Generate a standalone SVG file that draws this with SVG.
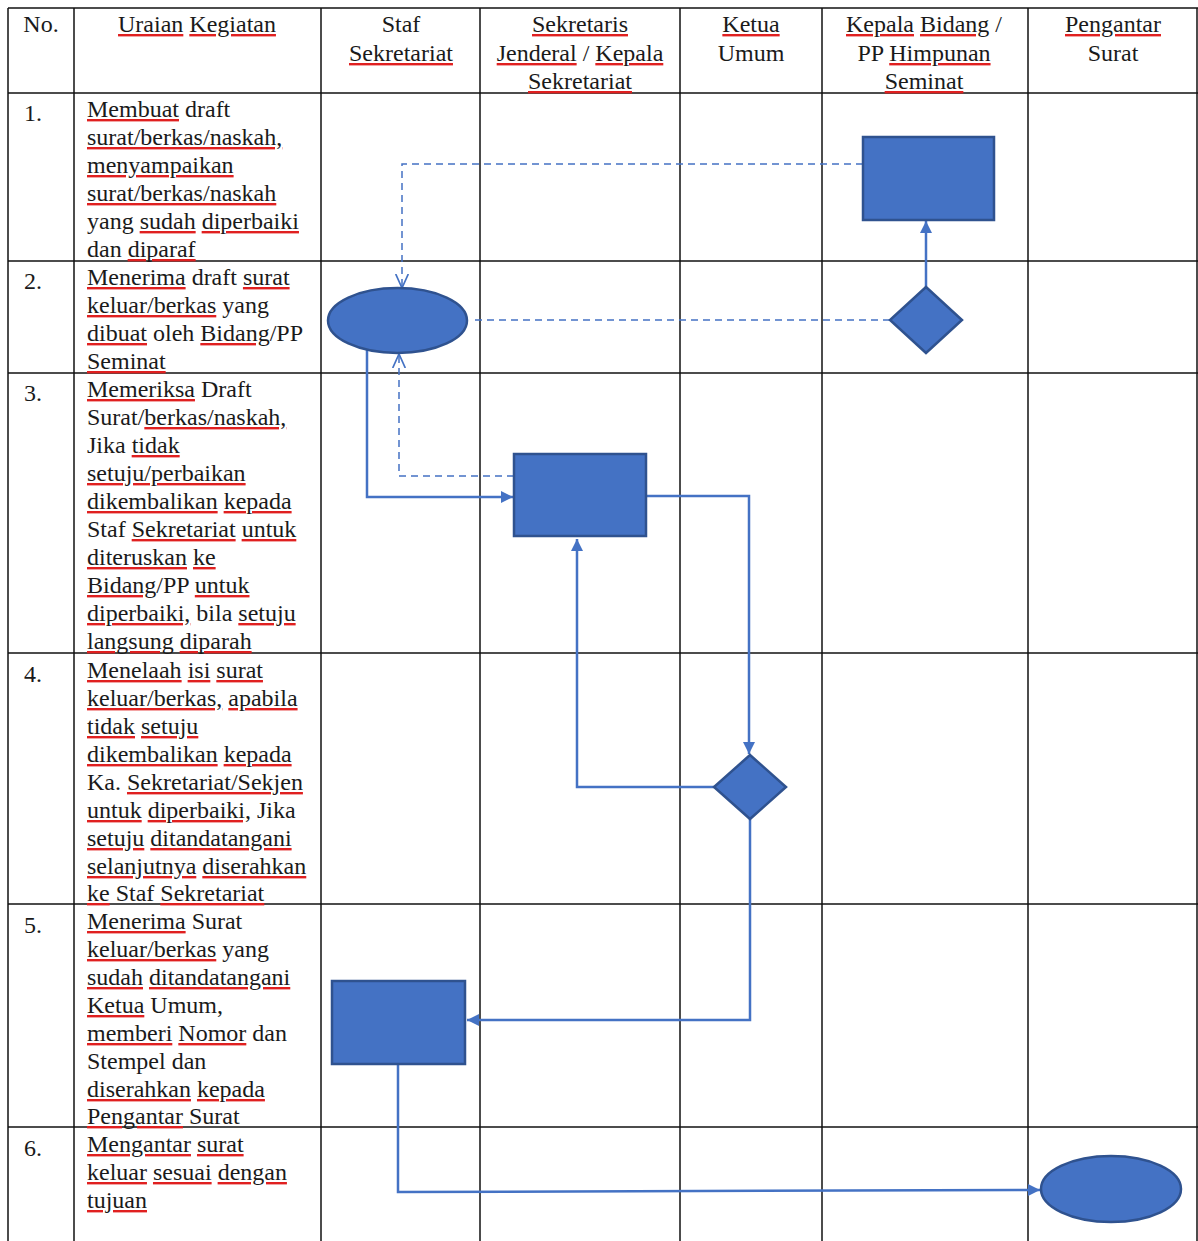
<svg xmlns="http://www.w3.org/2000/svg" width="1198" height="1241" viewBox="0 0 1198 1241">
<style>
text{font-family:"Liberation Serif","Times New Roman",serif;font-size:24px;fill:#1a1a1a}
.c{text-anchor:middle}
.s{fill:#e02020;text-decoration:underline wavy #e02020;text-decoration-line:underline;text-decoration-style:wavy;text-decoration-color:#e02020}
.k{fill:#1a1a1a}
.grid line{stroke:#111;stroke-width:1.5}
.shape{fill:#4472C4;stroke:#2F528F;stroke-width:2.5}
.con{fill:none;stroke:#4472C4;stroke-width:2.5}
.dash{fill:none;stroke:#4472C4;stroke-width:1.5;stroke-dasharray:7 5}
</style>
<defs>
<marker id="af" viewBox="0 0 10 10" refX="10" refY="5" markerWidth="12" markerHeight="12" markerUnits="userSpaceOnUse" orient="auto"><path d="M0,0 L10,5 L0,10 z" fill="#4472C4"/></marker>
<marker id="ao" viewBox="0 0 10 10" refX="10" refY="5" markerWidth="14" markerHeight="14" markerUnits="userSpaceOnUse" orient="auto"><path d="M0,0.5 L10,5 L0,9.5" fill="none" stroke="#4472C4" stroke-width="1.2"/></marker>
</defs>
<rect width="1198" height="1241" fill="#fff"/>
<g class="grid">
<line x1="8" y1="8" x2="1198" y2="8"/>
<line x1="8" y1="93" x2="1198" y2="93"/>
<line x1="8" y1="261" x2="1198" y2="261"/>
<line x1="8" y1="373" x2="1198" y2="373"/>
<line x1="8" y1="653" x2="1198" y2="653"/>
<line x1="8" y1="904" x2="1198" y2="904"/>
<line x1="8" y1="1127" x2="1198" y2="1127"/>
<line x1="8" y1="8" x2="8" y2="1241"/>
<line x1="74" y1="8" x2="74" y2="1241"/>
<line x1="321" y1="8" x2="321" y2="1241"/>
<line x1="480" y1="8" x2="480" y2="1241"/>
<line x1="680" y1="8" x2="680" y2="1241"/>
<line x1="822" y1="8" x2="822" y2="1241"/>
<line x1="1028" y1="8" x2="1028" y2="1241"/>
<line x1="1197" y1="8" x2="1197" y2="1241"/>
</g>
<g id="header">
<text class="c" x="41" y="32">No.</text>
<text class="c" x="197" y="32"><tspan class="s"><tspan class="k">Uraian</tspan></tspan> <tspan class="s"><tspan class="k">Kegiatan</tspan></tspan></text>
<text class="c" x="401" y="32">Staf</text>
<text class="c" x="401" y="61"><tspan class="s"><tspan class="k">Sekretariat</tspan></tspan></text>
<text class="c" x="580" y="32"><tspan class="s"><tspan class="k">Sekretaris</tspan></tspan></text>
<text class="c" x="580" y="61"><tspan class="s"><tspan class="k">Jenderal</tspan></tspan> / <tspan class="s"><tspan class="k">Kepala</tspan></tspan></text>
<text class="c" x="580" y="89"><tspan class="s"><tspan class="k">Sekretariat</tspan></tspan></text>
<text class="c" x="751" y="32"><tspan class="s"><tspan class="k">Ketua</tspan></tspan></text>
<text class="c" x="751" y="61">Umum</text>
<text class="c" x="924" y="32"><tspan class="s"><tspan class="k">Kepala</tspan></tspan> <tspan class="s"><tspan class="k">Bidang</tspan></tspan> /</text>
<text class="c" x="924" y="61">PP <tspan class="s"><tspan class="k">Himpunan</tspan></tspan></text>
<text class="c" x="924" y="89"><tspan class="s"><tspan class="k">Seminat</tspan></tspan></text>
<text class="c" x="1113" y="32"><tspan class="s"><tspan class="k">Pengantar</tspan></tspan></text>
<text class="c" x="1113" y="61">Surat</text>
</g>
<g id="row1">
<text x="24" y="121">1.</text>
<text x="87" y="117"><tspan class="s"><tspan class="k">Membuat</tspan></tspan> draft</text>
<text x="87" y="145"><tspan class="s"><tspan class="k">surat/berkas/naskah,</tspan></tspan></text>
<text x="87" y="173"><tspan class="s"><tspan class="k">menyampaikan</tspan></tspan></text>
<text x="87" y="201"><tspan class="s"><tspan class="k">surat/berkas/naskah</tspan></tspan></text>
<text x="87" y="229">yang <tspan class="s"><tspan class="k">sudah</tspan></tspan> <tspan class="s"><tspan class="k">diperbaiki</tspan></tspan></text>
<text x="87" y="257">dan <tspan class="s"><tspan class="k">diparaf</tspan></tspan></text>
</g>
<g id="row2">
<text x="24" y="289">2.</text>
<text x="87" y="285"><tspan class="s"><tspan class="k">Menerima</tspan></tspan> draft <tspan class="s"><tspan class="k">surat</tspan></tspan></text>
<text x="87" y="313"><tspan class="s"><tspan class="k">keluar/berkas</tspan></tspan> yang</text>
<text x="87" y="341"><tspan class="s"><tspan class="k">dibuat</tspan></tspan> oleh <tspan class="s"><tspan class="k">Bidang</tspan></tspan>/PP</text>
<text x="87" y="369"><tspan class="s"><tspan class="k">Seminat</tspan></tspan></text>
</g>
<g id="row3">
<text x="24" y="401">3.</text>
<text x="87" y="397"><tspan class="s"><tspan class="k">Memeriksa</tspan></tspan> Draft</text>
<text x="87" y="425">Surat/<tspan class="s"><tspan class="k">berkas/naskah,</tspan></tspan></text>
<text x="87" y="453">Jika <tspan class="s"><tspan class="k">tidak</tspan></tspan></text>
<text x="87" y="481"><tspan class="s"><tspan class="k">setuju/perbaikan</tspan></tspan></text>
<text x="87" y="509"><tspan class="s"><tspan class="k">dikembalikan</tspan></tspan> <tspan class="s"><tspan class="k">kepada</tspan></tspan></text>
<text x="87" y="537">Staf <tspan class="s"><tspan class="k">Sekretariat</tspan></tspan> <tspan class="s"><tspan class="k">untuk</tspan></tspan></text>
<text x="87" y="565"><tspan class="s"><tspan class="k">diteruskan</tspan></tspan> <tspan class="s"><tspan class="k">ke</tspan></tspan></text>
<text x="87" y="593"><tspan class="s"><tspan class="k">Bidang</tspan></tspan>/PP <tspan class="s"><tspan class="k">untuk</tspan></tspan></text>
<text x="87" y="621"><tspan class="s"><tspan class="k">diperbaiki,</tspan></tspan> bila <tspan class="s"><tspan class="k">setuju</tspan></tspan></text>
<text x="87" y="649"><tspan class="s"><tspan class="k">langsung</tspan></tspan> <tspan class="s"><tspan class="k">diparah</tspan></tspan></text>
</g>
<g id="row4">
<text x="24" y="682">4.</text>
<text x="87" y="678"><tspan class="s"><tspan class="k">Menelaah</tspan></tspan> <tspan class="s"><tspan class="k">isi</tspan></tspan> <tspan class="s"><tspan class="k">surat</tspan></tspan></text>
<text x="87" y="706"><tspan class="s"><tspan class="k">keluar/berkas,</tspan></tspan> <tspan class="s"><tspan class="k">apabila</tspan></tspan></text>
<text x="87" y="734"><tspan class="s"><tspan class="k">tidak</tspan></tspan> <tspan class="s"><tspan class="k">setuju</tspan></tspan></text>
<text x="87" y="762"><tspan class="s"><tspan class="k">dikembalikan</tspan></tspan> <tspan class="s"><tspan class="k">kepada</tspan></tspan></text>
<text x="87" y="790">Ka. <tspan class="s"><tspan class="k">Sekretariat/Sekjen</tspan></tspan></text>
<text x="87" y="818"><tspan class="s"><tspan class="k">untuk</tspan></tspan> <tspan class="s"><tspan class="k">diperbaiki,</tspan></tspan> Jika</text>
<text x="87" y="846"><tspan class="s"><tspan class="k">setuju</tspan></tspan> <tspan class="s"><tspan class="k">ditandatangani</tspan></tspan></text>
<text x="87" y="874"><tspan class="s"><tspan class="k">selanjutnya</tspan></tspan> <tspan class="s"><tspan class="k">diserahkan</tspan></tspan></text>
<text x="87" y="901"><tspan class="s"><tspan class="k">ke</tspan></tspan> Staf <tspan class="s"><tspan class="k">Sekretariat</tspan></tspan></text>
</g>
<g id="row5">
<text x="24" y="933">5.</text>
<text x="87" y="929"><tspan class="s"><tspan class="k">Menerima</tspan></tspan> Surat</text>
<text x="87" y="957"><tspan class="s"><tspan class="k">keluar/berkas</tspan></tspan> yang</text>
<text x="87" y="985"><tspan class="s"><tspan class="k">sudah</tspan></tspan> <tspan class="s"><tspan class="k">ditandatangani</tspan></tspan></text>
<text x="87" y="1013"><tspan class="s"><tspan class="k">Ketua</tspan></tspan> Umum,</text>
<text x="87" y="1041"><tspan class="s"><tspan class="k">memberi</tspan></tspan> <tspan class="s"><tspan class="k">Nomor</tspan></tspan> dan</text>
<text x="87" y="1069">Stempel dan</text>
<text x="87" y="1097"><tspan class="s"><tspan class="k">diserahkan</tspan></tspan> <tspan class="s"><tspan class="k">kepada</tspan></tspan></text>
<text x="87" y="1124"><tspan class="s"><tspan class="k">Pengantar</tspan></tspan> Surat</text>
</g>
<g id="row6">
<text x="24" y="1156">6.</text>
<text x="87" y="1152"><tspan class="s"><tspan class="k">Mengantar</tspan></tspan> <tspan class="s"><tspan class="k">surat</tspan></tspan></text>
<text x="87" y="1180"><tspan class="s"><tspan class="k">keluar</tspan></tspan> <tspan class="s"><tspan class="k">sesuai</tspan></tspan> <tspan class="s"><tspan class="k">dengan</tspan></tspan></text>
<text x="87" y="1208"><tspan class="s"><tspan class="k">tujuan</tspan></tspan></text>
</g>
<g id="connectors">
<path class="dash" d="M863,164 H402 V288" marker-end="url(#ao)"/>
<path class="dash" d="M890,320 H474"/>
<path class="con" d="M926,287 V221" marker-end="url(#af)"/>
<path class="con" d="M367,350 V497 H513" marker-end="url(#af)"/>
<path class="dash" d="M514,476 H399 V354" marker-end="url(#ao)"/>
<path class="con" d="M646,496 H749 V754" marker-end="url(#af)"/>
<path class="con" d="M714,787 H577 V539" marker-end="url(#af)"/>
<path class="con" d="M750,819 V1020 H467" marker-end="url(#af)"/>
<path class="con" d="M398,1064 V1192 L1040,1190" marker-end="url(#af)"/>
</g>
<g id="n1"><rect class="shape" x="863" y="137" width="131" height="83"/></g>
<g id="n2"><ellipse class="shape" cx="397.5" cy="320.5" rx="69.5" ry="32.5"/></g>
<g id="n3"><polygon class="shape" points="926,287 962,320 926,353 890,320"/></g>
<g id="n4"><rect class="shape" x="514" y="454" width="132" height="82"/></g>
<g id="n5"><polygon class="shape" points="750,755 786,787 750,819 714,787"/></g>
<g id="n6"><rect class="shape" x="332" y="981" width="133" height="83"/></g>
<g id="n7"><ellipse class="shape" cx="1111" cy="1189" rx="70" ry="33"/></g>
</svg>
